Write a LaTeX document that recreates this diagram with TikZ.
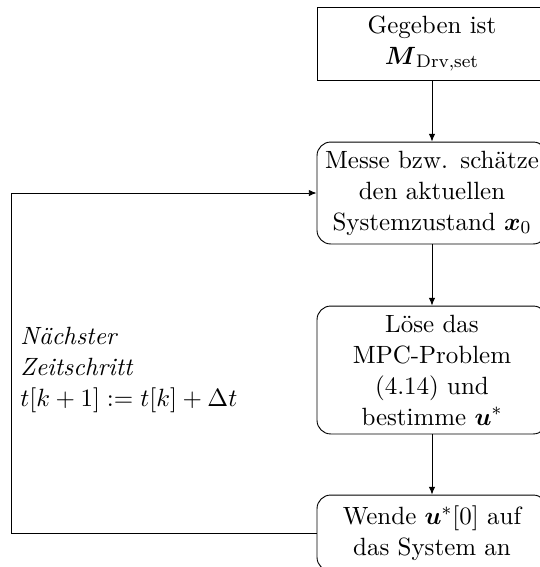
\documentclass[tikz,border=0pt]{standalone}
\usepackage{amsmath}
\usepackage{fontspec}
\usetikzlibrary{arrows.meta}
\tikzset{
  px/.style={x={(0.4386pt,0)},y={(0,-0.4386pt)}},
  txt/.style={font=\fontsize{10.95pt}{13.6pt}\selectfont},
  box/.style={txt, draw, line width=0.4pt, align=center, text width=94.2pt, inner sep=3.33pt},
  rbox/.style={box, rounded corners=6pt},
  arr/.style={-{Latex[length=3.4pt,width=2.8pt]}, line width=0.4pt},
}
\begin{document}
\begin{tikzpicture}[px]
\useasboundingbox (0,0) rectangle (540,567);
\node[box, minimum height=32pt] (giv) at (432,43.5) {Gegeben ist\\ $\boldsymbol{M}_{\mathrm{Drv,set}}$};
\node[rbox, minimum height=44.7pt] (mes) at (432,193) {Messe bzw. schätze\\ den aktuellen\\ Systemzustand $\boldsymbol{x}_0$};
\node[rbox, minimum height=56.1pt] (los) at (432,370) {Löse das\\ MPC-Problem\\ (4.14) und\\ bestimme $\boldsymbol{u}^{*}$};
\node[rbox, minimum height=33.3pt] (wen) at (432,533) {Wende $\boldsymbol{u}^{*}[0]$ auf\\ das System an};
\coordinate (cb) at (11,533);
\coordinate (ct) at (11,193);
\node[txt, anchor=west, align=left, inner sep=0pt] (lab) at (20,370) {\textit{Nächster}\\ \textit{Zeitschritt}\\ $t[k+1] := t[k] + \Delta t$};
\draw[arr] (giv) -- (mes);
\draw[arr] (mes) -- (los);
\draw[arr] (los) -- (wen);
\draw[arr] (wen.west) -- (cb) -- (ct) -- (mes.west);
\end{tikzpicture}
\end{document}
